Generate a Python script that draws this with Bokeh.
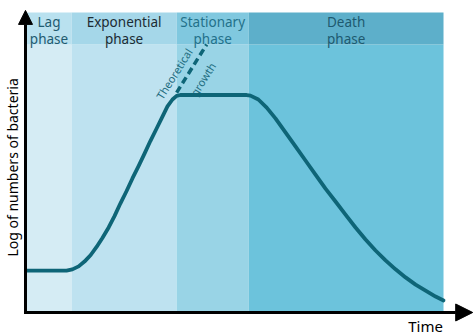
import math
from bokeh.plotting import figure
from bokeh.models import Range1d, Arrow, NormalHead
from bokeh.core.properties import value
from bokeh.embed import file_html
from bokeh.resources import INLINE

# ---- data ----
phase_names = ["Lag\nphase", "Exponential\nphase", "Stationary\nphase", "Death\nphase"]
phase_start = [0.0, 1.08, 3.60, 5.33]
phase_end = [1.08, 3.60, 5.33, 10.0]
body_colors = ["#d5ecf4", "#bee2f0", "#99d4e6", "#6cc3dc"]
header_colors = ["#b9e1ef", "#a5d7e9", "#80c8df", "#5dafca"]
label_colors = ["#1f5b70", "#1c2b33", "#23718a", "#1e5a70"]

time = [0.00, 0.96, 1.10, 1.25, 1.39, 1.54, 1.68, 1.82, 1.97, 2.11, 2.25, 2.40,
        2.54, 2.69, 2.83, 2.97, 3.12, 3.26, 3.38, 3.50, 3.60, 3.69,
        5.28, 5.37, 5.56, 5.76, 5.97, 6.21, 6.45, 6.69, 6.93, 7.17, 7.41, 7.65,
        7.89, 8.13, 8.37, 8.61, 8.85, 9.09, 9.33, 9.57, 9.81, 10.00]
log_count = [1.37, 1.37, 1.41, 1.51, 1.67, 1.89, 2.16, 2.46, 2.81, 3.19, 3.61, 4.03,
             4.45, 4.87, 5.28, 5.70, 6.12, 6.52, 6.86, 7.09, 7.21, 7.24,
             7.24, 7.22, 7.09, 6.82, 6.46, 5.99, 5.52, 5.05, 4.58, 4.11, 3.68, 3.24,
             2.81, 2.41, 2.04, 1.71, 1.41, 1.14, 0.90, 0.70, 0.50, 0.37]

theory_time = [3.60, 4.32]
theory_log = [7.32, 8.93]

header_bottom = 8.93
header_top = 10.0

p = figure(width=474, height=336, output_backend="svg", toolbar_location=None,
           x_range=Range1d(-0.6235, 10.743), y_range=Range1d(-0.836, 10.401),
           min_border=0, outline_line_color=None, background_fill_color="white",
           border_fill_color="white")
p.axis.visible = False
p.grid.visible = False

p.quad(left=phase_start, right=phase_end, bottom=[0] * 4, top=[header_bottom] * 4,
       fill_color=body_colors, line_color=None)
p.quad(left=phase_start, right=phase_end, bottom=[header_bottom] * 4, top=[header_top] * 4,
       fill_color=header_colors, line_color=None)

centers = [(a + b) / 2 for a, b in zip(phase_start, phase_end)]
p.text(x=centers, y=[(header_bottom + header_top) / 2 - 0.08] * 4, text=phase_names,
       text_color=label_colors, text_font=value("Noto Sans"), text_font_size="13.5px",
       text_align="center", text_baseline="middle", text_line_height=0.95)

# theoretical growth dashed
p.line(theory_time, theory_log, line_color="#0e6577", line_width=3.5, line_dash="7 4")
ang = math.atan2((theory_log[1] - theory_log[0]) * 29.9, (theory_time[1] - theory_time[0]) * 41.7)
p.text(x=[3.54], y=[7.95], text=["Theoretical"], angle=ang, text_color="#1e6d80",
       text_font=value("Noto Sans"), text_font_size="11px", text_align="center",
       text_baseline="middle")
p.text(x=[4.23], y=[7.77], text=["growth"], angle=ang, text_color="#1e6d80",
       text_font=value("Noto Sans"), text_font_size="11px", text_align="center",
       text_baseline="middle")

# growth curve
p.line(time, log_count, line_color="#0e6577", line_width=3.8, line_join="round", line_cap="round")

# axes with arrows
p.add_layout(Arrow(x_start=-0.024, y_start=-0.035, x_end=-0.024, y_end=10.07,
                   line_width=3, line_color="black",
                   end=NormalHead(size=14, fill_color="black", line_color="black", line_width=1)))
p.add_layout(Arrow(x_start=-0.06, y_start=-0.033, x_end=10.70, y_end=-0.033,
                   line_width=3, line_color="black",
                   end=NormalHead(size=17, fill_color="black", line_color="black", line_width=1)))

p.text(x=[-0.33], y=[4.82], text=["Log of numbers of bacteria"], angle=math.pi / 2,
       text_color="black", text_font=value("Noto Sans"), text_font_size="14px",
       text_align="center", text_baseline="middle")
p.text(x=[9.57], y=[-0.47], text=["Time"], text_color="black",
       text_font=value("Noto Sans"), text_font_size="15px",
       text_align="center", text_baseline="middle")

open("out.html", "w").write(file_html(p, INLINE))
